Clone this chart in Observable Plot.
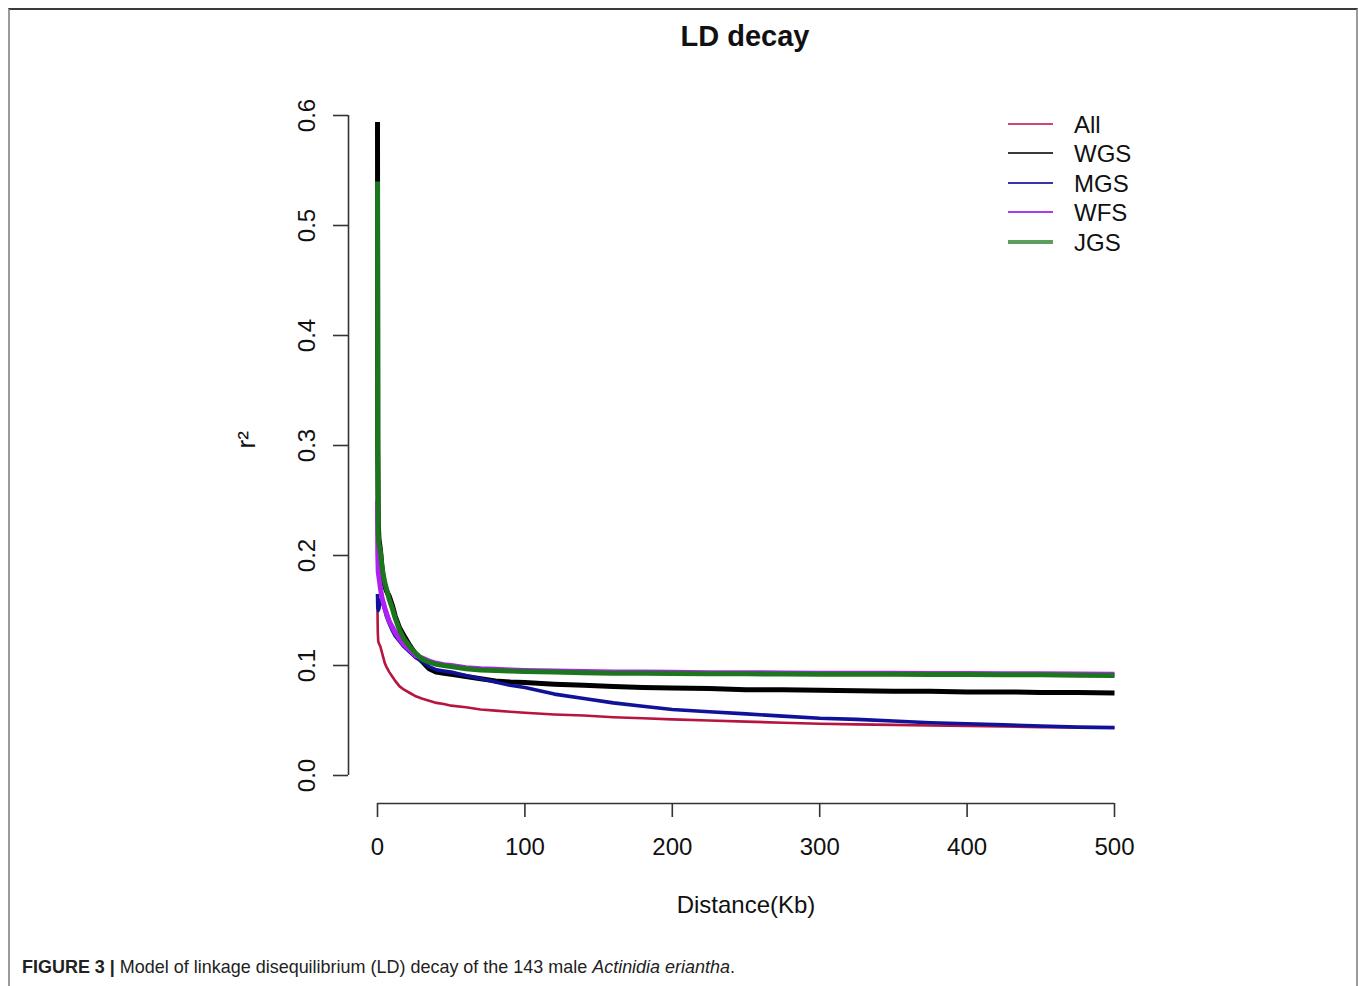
<!DOCTYPE html>
<html>
<head>
<meta charset="utf-8">
<script src="https://cdn.jsdelivr.net/npm/d3@7"></script>
<script src="https://cdn.jsdelivr.net/npm/@observablehq/plot@0.6"></script>
<style>
  html, body { margin: 0; padding: 0; background: #fff; overflow: hidden; }
  body { width: 1358px; height: 986px; position: relative; font-family: "Liberation Sans", Arial, sans-serif; }
  #frame { position: absolute; left: 8px; top: 8px; width: 1350px; height: 1000px; box-sizing: border-box;
           border: 2px solid #9a9a9a; border-top-color: #3a3a3a; border-bottom: none; z-index: 5; pointer-events: none; }
  #chart { position: absolute; left: 0; top: 0; }
  #title { position: absolute; left: 0; top: 19px; width: 1490px; text-align: center; font-weight: bold;
           font-size: 29px; line-height: 34px; color: #111; }
  #legend { position: absolute; left: 0; top: 0; }
  .lg-line { position: absolute; left: 1008px; width: 45px; }
  .lg-text { position: absolute; left: 1074px; font-size: 24px; line-height: 28px; color: #111; white-space: nowrap; }
  #caption { position: absolute; left: 22px; top: 956px; font-size: 19px; line-height: 22px; color: #222;
             white-space: nowrap; transform-origin: 0 50%; font-family: "Liberation Sans Narrow", "Liberation Sans", Arial, sans-serif; }
</style>
</head>
<body>
<div id="frame"></div>
<div id="title">LD decay</div>
<div id="chart"></div>
<div id="legend"></div>
<div id="caption"><b>FIGURE 3 |</b> Model of linkage disequilibrium (LD) decay of the 143 male <i>Actinidia eriantha</i>.</div>
<script>
// ---- data ----
const distanceKb = [0, 0.2, 0.5, 1, 2, 3, 4, 5, 6, 8, 10, 12, 15, 18, 22, 26, 30, 35, 40, 45, 50, 60, 70, 80, 90, 100,
  120, 140, 160, 180, 200, 225, 250, 275, 300, 325, 350, 375, 400, 425, 450, 475, 500];

const seriesNames = ["All", "WGS", "MGS", "WFS", "JGS"];

const r2All = [0.150, 0.130, 0.122, 0.120, 0.117, 0.112, 0.107, 0.102, 0.099, 0.094, 0.090, 0.086, 0.081, 0.078, 0.075, 0.072,
  0.070, 0.068, 0.066, 0.065, 0.0635, 0.062, 0.060, 0.059, 0.058, 0.057, 0.0555, 0.0545, 0.053, 0.052, 0.051, 0.050, 0.049,
  0.048, 0.047, 0.0465, 0.046, 0.0455, 0.045, 0.0445, 0.044, 0.0437, 0.0435];

const r2WGS = [0.594, 0.300, 0.230, 0.215, 0.205, 0.190, 0.177, 0.172, 0.168, 0.163, 0.155, 0.145, 0.134, 0.127, 0.118, 0.110,
  0.104, 0.097, 0.094, 0.093, 0.092, 0.090, 0.088, 0.086, 0.085, 0.0845, 0.083, 0.082, 0.081, 0.080, 0.0795, 0.079, 0.078,
  0.078, 0.0775, 0.077, 0.0765, 0.0765, 0.076, 0.076, 0.0755, 0.0755, 0.075];

const r2MGS = [0.165, 0.152, 0.150, 0.152, 0.160, 0.158, 0.155, 0.150, 0.145, 0.138, 0.132, 0.127, 0.122, 0.117, 0.112, 0.107,
  0.104, 0.099, 0.096, 0.095, 0.094, 0.091, 0.088, 0.085, 0.082, 0.080, 0.074, 0.070, 0.066, 0.063, 0.060, 0.058, 0.056,
  0.054, 0.052, 0.051, 0.0495, 0.048, 0.047, 0.046, 0.045, 0.044, 0.0435];

const r2WFS = [0.250, 0.200, 0.185, 0.180, 0.170, 0.162, 0.157, 0.152, 0.148, 0.140, 0.135, 0.130, 0.124, 0.119, 0.114, 0.109,
  0.107, 0.104, 0.102, 0.1008, 0.100, 0.098, 0.097, 0.0965, 0.096, 0.0955, 0.095, 0.0945, 0.094, 0.094, 0.0938, 0.0935, 0.0935,
  0.0932, 0.093, 0.093, 0.093, 0.0928, 0.0928, 0.0925, 0.0925, 0.0922, 0.092];

const r2JGS = [0.540, 0.300, 0.220, 0.210, 0.203, 0.190, 0.182, 0.175, 0.170, 0.160, 0.152, 0.143, 0.132, 0.124, 0.117, 0.111,
  0.106, 0.103, 0.101, 0.100, 0.099, 0.097, 0.096, 0.0955, 0.095, 0.0945, 0.094, 0.0935, 0.093, 0.093, 0.0928, 0.0925, 0.0925,
  0.0922, 0.092, 0.092, 0.092, 0.0918, 0.0918, 0.0915, 0.0915, 0.0912, 0.091];

const xTicks = [0, 100, 200, 300, 400, 500];
const yTicks = [0, 0.1, 0.2, 0.3, 0.4, 0.5, 0.6];

const curveColors = {All: "#b5153f", WGS: "#000000", MGS: "#10139a", WFS: "#b020f5", JGS: "#1c761c"};
const legendColors = {All: "#d2476e", WGS: "#3a3a3a", MGS: "#3535ad", WFS: "#a93cf0", JGS: "#5c9e5c"};
const curveWidths = {All: 2.6, WGS: 5, MGS: 3.6, WFS: 5, JGS: 5};
const legendWidths = {All: 2, WGS: 2, MGS: 2, WFS: 2, JGS: 3.2};

// build long table
const valuesBySeries = {All: r2All, WGS: r2WGS, MGS: r2MGS, WFS: r2WFS, JGS: r2JGS};
const rows = [];
for (const s of seriesNames) {
  valuesBySeries[s].forEach((v, i) => rows.push({series: s, d: distanceKb[i], r2: v}));
}

const fontFamily = '"Liberation Sans", Arial, sans-serif';

const plot = Plot.plot({
  width: 1358,
  height: 930,
  marginLeft: 377,
  marginRight: 244,
  marginTop: 115,
  marginBottom: 155,
  x: {domain: [0, 500], axis: null},
  y: {domain: [0, 0.6], axis: null},
  style: {background: "transparent", fontFamily, color: "#111", overflow: "visible"},
  marks: [
    // axis lines (R-style, offset from the data region)
    Plot.ruleX([0], {y1: 0, y2: 0.6, dx: -29, stroke: "#333", strokeWidth: 1.6}),
    Plot.ruleY([0], {x1: 0, x2: 500, dy: 28, stroke: "#333", strokeWidth: 1.6}),
    Plot.axisY(yTicks, {anchor: "left", tickSize: 15, dx: -29, tickRotate: -90, tickPadding: 19,
      tickFormat: d3.format(".1f"), fontSize: 24, stroke: "#333", strokeWidth: 1.6, label: null}),
    Plot.axisX(xTicks, {anchor: "bottom", tickSize: 14, dy: 28, tickPadding: 20,
      tickFormat: d3.format("d"), fontSize: 24, stroke: "#333", strokeWidth: 1.6, label: null}),
    // axis titles
    Plot.text(["r²"], {frameAnchor: "left", rotate: -90, dx: -131, dy: 3, fontSize: 26, fill: "#111"}),
    Plot.text(["Distance(Kb)"], {frameAnchor: "bottom", dy: 137, fontSize: 24, fill: "#111"}),
    // curves, in plotting order
    ...seriesNames.map(s => Plot.line(rows.filter(r => r.series === s), {
      x: "d", y: "r2", stroke: curveColors[s], strokeWidth: curveWidths[s],
      strokeLinejoin: "round", strokeLinecap: "butt", curve: "linear"
    }))
  ]
});
document.getElementById("chart").appendChild(plot);

// legend (inside the plot area, top right, R style)
const legendY = {All: 124, WGS: 153, MGS: 183, WFS: 212, JGS: 242};
const legend = document.getElementById("legend");
for (const s of seriesNames) {
  const line = document.createElement("div");
  line.className = "lg-line";
  line.style.top = (legendY[s] - legendWidths[s] / 2) + "px";
  line.style.height = legendWidths[s] + "px";
  line.style.background = legendColors[s];
  legend.appendChild(line);
  const t = document.createElement("div");
  t.className = "lg-text";
  t.style.top = (legendY[s] - 13) + "px";
  t.textContent = s;
  legend.appendChild(t);
}

// fit caption to its measured width in the reference
const cap = document.getElementById("caption");
const w = cap.getBoundingClientRect().width;
cap.style.transform = `scaleX(${713 / w})`;
</script>
</body>
</html>
